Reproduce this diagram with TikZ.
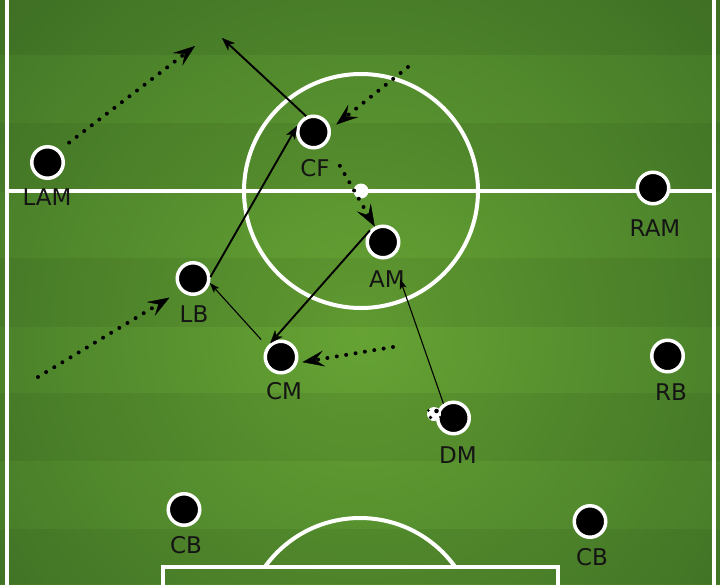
\documentclass[tikz,border=0pt]{standalone}
\usepackage{fontspec}
\setmainfont{DejaVu Sans}
\usetikzlibrary{arrows.meta}
\definecolor{fieldin}{RGB}{102,163,52}
\definecolor{fieldout}{RGB}{64,116,38}
\definecolor{labelc}{RGB}{20,20,20}
\begin{document}
\begin{tikzpicture}[x=1pt,y=-1pt,
  player/.style={circle,fill=black,draw=white,line width=3.5pt,minimum size=31.5pt,inner sep=0pt},
  lbl/.style={font=\fontsize{23}{26}\selectfont,text=labelc,inner sep=0pt},
  fieldline/.style={white,line width=4pt},
  run/.style={line width=4pt,dash pattern=on 0pt off 9.5pt,line cap=round,
    -{Stealth[length=22pt,width=16pt,inset=9pt,line width=0.4pt]}},
  pass/.style={line width=1.9pt,-{Stealth[length=13pt,width=10pt,inset=3.5pt,line width=0.3pt]}},
  thinpass/.style={line width=1.1pt,-{Stealth[length=10pt,width=7pt,inset=2.5pt,line width=0.3pt]}}]
\useasboundingbox (0,0) rectangle (720,584);
% pitch
\begin{scope}
  \clip (0,0) rectangle (720,584);
  \shade[inner color=fieldin,outer color=fieldout] (360,330) circle (520);
  \foreach \a/\b in {0/55,123/192,258/327,393/461,529/584}
    \fill[black,opacity=0.06] (0,\a) rectangle (720,\b);
  \draw[fieldline] (6.5,-5) -- (6.5,590);
  \draw[fieldline] (714,-5) -- (714,590);
  \draw[fieldline] (6.5,191) -- (714,191);
  \draw[fieldline] (361,191) circle (117);
  \fill[white] (361,191) circle (7.5);
  \draw[fieldline] (163,590) -- (163,567) -- (558,567) -- (558,590);
  \begin{scope}
    \clip (0,0) rectangle (720,566);
    \draw[fieldline] (360,635) circle (117);
  \end{scope}
\end{scope}
% players
\node[player] (LAM) at (47.5,162.5) {};
\node[player] (CF)  at (313.5,132) {};
\node[player] (RAM) at (653,188) {};
\node[player] (AM)  at (383,242) {};
\node[player] (LB)  at (193,278.5) {};
\node[player] (CM)  at (281,357) {};
\node[player] (RB)  at (667.5,356) {};
\node[player] (DM)  at (453.5,418) {};
\node[player] (CBL) at (184,509.5) {};
\node[player] (CBR) at (590,521.5) {};
% labels
\node[lbl] (LAMl) at (47,197) {LAM};
\node[lbl] (CFl)  at (315,168) {CF};
\node[lbl] (RAMl) at (655,228) {RAM};
\node[lbl] (AMl)  at (387,279) {AM};
\node[lbl] (LBl)  at (194,314) {LB};
\node[lbl] (CMl)  at (284,391) {CM};
\node[lbl] (RBl)  at (671,392) {RB};
\node[lbl] (DMl)  at (458,455) {DM};
\node[lbl] (CBLl) at (186,545) {CB};
\node[lbl] (CBRl) at (592,557) {CB};
% ball
\begin{scope}
  \fill[white] (434,414) circle (7);
  \fill[black] (436.5,411) circle (2.3);
  \fill[black] (430.5,417.5) circle (1.8);
  \fill[black] (428.5,410.5) circle (1.3);
  \fill[black] (440,417) circle (1.2);
\end{scope}
% free ends
\coordinate (lamT) at (195,46);
\coordinate (cfT)  at (222,38);
\coordinate (trS)  at (408,67);
\coordinate (crS)  at (393,347);
\coordinate (lbS)  at (38,377);
\coordinate (amT)  at (400,279);
% runs (dotted)
\draw[run,shorten <=12pt] (LAM.46) -- (lamT);
\draw[run,shorten >=7pt] (trS) -- (CF.10);
\draw[run,shorten <=26pt] (CF.-40) -- (AM.118);
\draw[run,shorten >=5pt] (crS) -- (CM.-20);
\draw[run,shorten >=13pt] (lbS) -- (LB.225);
% passes
\draw[pass] (CF.115) -- (cfT);
\draw[pass] (LB.5) -- (CF.160);
\draw[pass] (AM.138) -- (CM.128);
\draw[thinpass,shorten <=9pt] (CM.142) -- (LB.-15);
\draw[thinpass] (DM.125) -- (amT);
\end{tikzpicture}
\end{document}
